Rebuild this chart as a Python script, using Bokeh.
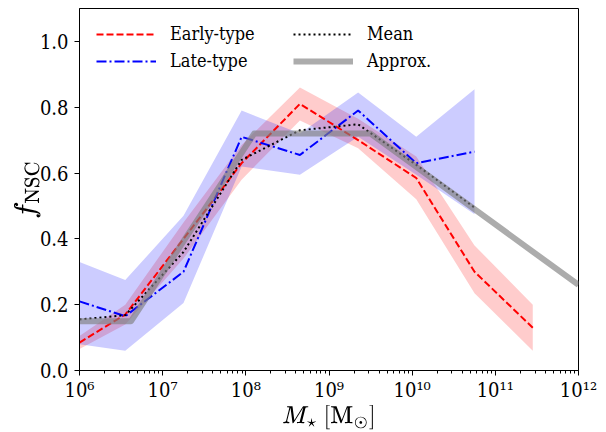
from bokeh.plotting import figure
from bokeh.models import (Range1d, FixedTicker, Legend, LegendItem,
                          NumeralTickFormatter, CustomJSTickFormatter)
from bokeh.embed import file_html
from bokeh.resources import INLINE

# ---- data ----
mass = [1.0e6, 3.55e6, 1.78e7, 8.9e7, 4.47e8, 2.24e9, 1.12e10, 5.62e10, 2.82e11]

early = [0.085, 0.17, 0.40, 0.63, 0.81, 0.70, 0.585, 0.30, 0.13]
early_lo = [0.065, 0.14, 0.34, 0.58, 0.76, 0.675, 0.52, 0.235, 0.06]
early_hi = [0.105, 0.20, 0.45, 0.685, 0.86, 0.765, 0.65, 0.38, 0.20]

late_mass = mass[:8]
late = [0.21, 0.165, 0.30, 0.71, 0.655, 0.79, 0.63, 0.665]
late_lo = [0.08, 0.06, 0.205, 0.62, 0.595, 0.71, 0.595, 0.475]
late_hi = [0.33, 0.275, 0.47, 0.79, 0.72, 0.845, 0.71, 0.855]

mean_mass = mass[:8]
mean = [0.155, 0.168, 0.36, 0.64, 0.73, 0.748, 0.625, 0.495]

approx_mass = [1.0e6, 4.17e6, 1.26e8, 3.16e9, 1.0e12]
approx = [0.15, 0.15, 0.72, 0.72, 0.26]

major_ticks = [1e6, 1e7, 1e8, 1e9, 1e10, 1e11, 1e12]
minor_ticks = [m * d for d in major_ticks[:-1] for m in range(2, 10)]
y_ticks = [0.0, 0.2, 0.4, 0.6, 0.8, 1.0]

SERIF = "DejaVu Serif Condensed"

p = figure(width=606, height=432, x_axis_type="log",
           x_range=Range1d(1e6, 1e12), y_range=Range1d(0, 1.1),
           output_backend="svg", toolbar_location=None,
           min_border_left=79, min_border_right=28,
           min_border_top=8, min_border_bottom=57)

p.grid.visible = False
p.outline_line_color = "black"
p.outline_line_width = 1
p.background_fill_color = "white"
p.border_fill_color = "white"

# bands
p.varea(x=mass, y1=early_lo, y2=early_hi, fill_color="red", fill_alpha=0.2)
p.varea(x=late_mass, y1=late_lo, y2=late_hi, fill_color="blue", fill_alpha=0.2)

# lines
r_early = p.line(mass, early, line_color="red", line_width=2, line_dash="7 3")
r_late = p.line(late_mass, late, line_color="blue", line_width=2, line_dash="10 3 2 3")
r_mean = p.line(mean_mass, mean, line_color="black", line_width=2, line_dash="2 3")
r_approx = p.line(approx_mass, approx, line_color="gray", line_alpha=0.65, line_width=6,
                  line_join="round")

# axes
p.xaxis.ticker = FixedTicker(ticks=major_ticks, minor_ticks=minor_ticks)
p.yaxis.ticker = FixedTicker(ticks=y_ticks, minor_ticks=[])
p.yaxis.formatter = NumeralTickFormatter(format="0.0")
p.xaxis.formatter = CustomJSTickFormatter(code="""
const sup = {"0":"\u2070","1":"\u00b9","2":"\u00b2","3":"\u00b3","4":"\u2074",
             "5":"\u2075","6":"\u2076","7":"\u2077","8":"\u2078","9":"\u2079","-":"\u207b"};
const e = Math.round(Math.log10(tick));
return "10" + String(e).split("").map(c => sup[c]).join("");
""")
for ax in (p.xaxis[0], p.yaxis[0]):
    ax.major_label_text_font = SERIF
    ax.major_label_text_font_size = "20px"
    ax.major_label_text_color = "black"
    ax.axis_label_text_font = SERIF
    ax.axis_label_text_font_size = "21px"
    ax.axis_label_text_font_style = "normal"
    ax.axis_label_text_color = "black"
    ax.major_tick_in = 0
    ax.major_tick_out = 5
    ax.minor_tick_in = 0
    ax.minor_tick_out = 3
    ax.axis_line_color = "black"
    ax.major_tick_line_color = "black"
    ax.minor_tick_line_color = "black"
p.yaxis.axis_label_text_font_size = "24px"
p.xaxis.major_label_standoff = 2
p.yaxis.major_label_standoff = 6
p.xaxis.axis_label = r"$$M_\star\ [\mathrm{M}_\odot]$$"
p.yaxis.axis_label = r"$$f_\mathrm{NSC}$$"
p.xaxis.axis_label_standoff = 0
p.yaxis.axis_label_standoff = -5

def make_legend(items, loc):
    return Legend(items=items, location=loc, orientation="vertical",
                  border_line_color=None, background_fill_alpha=0,
                  label_text_font=SERIF, label_text_font_size="18px",
                  label_text_color="black",
                  glyph_width=60, glyph_height=20, label_height=20,
                  label_standoff=14, spacing=6, padding=0, margin=0)

leg1 = make_legend([LegendItem(label="Early-type", renderers=[r_early]),
                    LegendItem(label="Late-type", renderers=[r_late])], (17, 299))
leg2 = make_legend([LegendItem(label="Mean", renderers=[r_mean]),
                    LegendItem(label="Approx.", renderers=[r_approx])], (214, 299))
p.add_layout(leg1)
p.add_layout(leg2)

open("out.html", "w").write(file_html(p, INLINE))
